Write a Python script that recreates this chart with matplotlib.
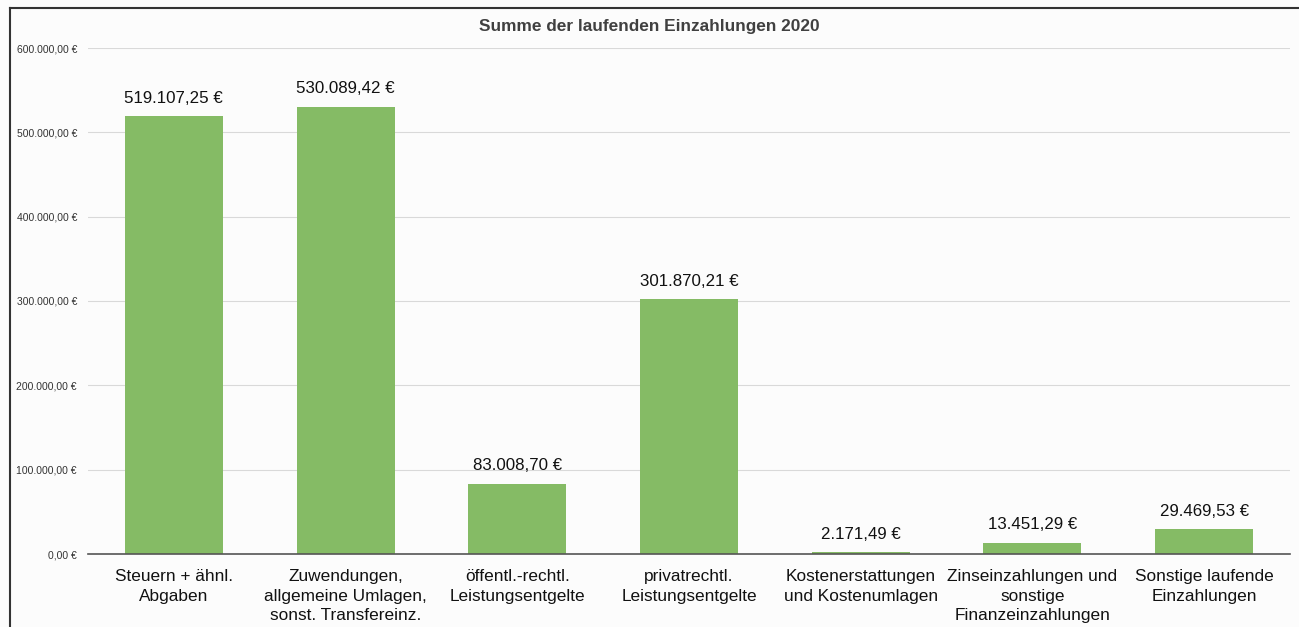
import matplotlib
matplotlib.use("Agg")
import matplotlib.pyplot as plt
from matplotlib.lines import Line2D
from matplotlib.ticker import FuncFormatter

plt.rcParams["font.family"] = ["Liberation Sans", "DejaVu Sans"]

categories = [
    "Steuern + ähnl.\nAbgaben",
    "Zuwendungen,\nallgemeine Umlagen,\nsonst. Transfereinz.",
    "öffentl.-rechtl.\nLeistungsentgelte",
    "privatrechtl.\nLeistungsentgelte",
    "Kostenerstattungen\nund Kostenumlagen",
    "Zinseinzahlungen und\nsonstige\nFinanzeinzahlungen",
    "Sonstige laufende\nEinzahlungen",
]
values = [519107.25, 530089.42, 83008.70, 301870.21, 2171.49, 13451.29, 29469.53]
y_ticks = [0, 100000, 200000, 300000, 400000, 500000, 600000]


def euro(v, pos=None):
    s = f"{v:,.2f}".replace(",", "X").replace(".", ",").replace("X", ".")
    return s + " €"


fig = plt.figure(figsize=(12.99, 6.27), dpi=100)
fig.patch.set_facecolor("#fcfcfc")
ax = fig.add_axes([88 / 1299, 73 / 627, 1202 / 1299, 506 / 627])
ax.set_facecolor("#fcfcfc")

x = range(len(categories))
bars = ax.bar(x, values, width=0.57, color="#85bb65", zorder=3)

for b, v in zip(bars, values):
    ax.text(b.get_x() + b.get_width() / 2, v + 12500, euro(v),
            ha="center", va="bottom", fontsize=12.2, color="#111111")

ax.set_xlim(-0.5, len(categories) - 0.5)
ax.set_ylim(0, 600000)
ax.set_yticks(y_ticks)
ax.yaxis.set_major_formatter(FuncFormatter(euro))
ax.tick_params(axis="y", length=0, pad=8, labelsize=7.5, labelcolor="#333333")
ax.set_xticks(list(x))
ax.set_xticklabels(categories, fontsize=12.4, color="#111111", linespacing=1.38)
ax.tick_params(axis="x", length=0, pad=11)

ax.grid(axis="y", color="#d9d9d9", linewidth=0.8, zorder=0)
for s in ["top", "right", "left"]:
    ax.spines[s].set_visible(False)
ax.spines["bottom"].set_color("#555555")
ax.spines["bottom"].set_linewidth(1.2)
ax.spines["bottom"].set_zorder(4)

fig.text(0.5, 1 - 27 / 627, "Summe der laufenden Einzahlungen 2020",
         ha="center", va="center", fontsize=12.4, fontweight="bold", color="#404040")

# Rahmen oben und links
fig.add_artist(Line2D([10 / 1299, 10 / 1299], [0, 1 - 8 / 627], color="#333333", linewidth=1.5))
fig.add_artist(Line2D([10 / 1299, 1], [1 - 8 / 627, 1 - 8 / 627], color="#333333", linewidth=1.5))

fig.savefig("out.png", dpi=100, facecolor=fig.get_facecolor())
